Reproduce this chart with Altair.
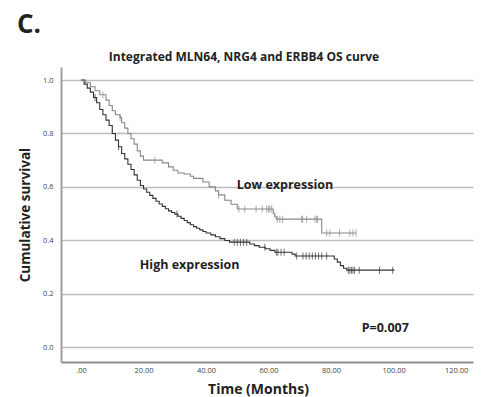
import altair as alt
import pandas as pd
import numpy as np

# ---- data ----
high_t = [0, 1, 2, 3, 4, 5, 6, 7, 8, 9, 10, 11, 12, 13, 14, 15, 16, 17, 18, 19,
          20, 21, 22, 23, 24, 25, 26, 27, 28, 29, 30, 31, 32, 33, 34, 35, 36, 37,
          38, 39, 40, 41.5, 43, 44.5, 46, 47.5, 54, 55.5, 57, 59, 60.5, 62,
          67.5, 68.5, 81, 82, 83, 84, 85]
high_s = [1.0, 0.985, 0.97, 0.955, 0.935, 0.915, 0.89, 0.87, 0.85, 0.83, 0.80,
          0.775, 0.75, 0.725, 0.705, 0.685, 0.665, 0.645, 0.625, 0.605, 0.592,
          0.58, 0.568, 0.557, 0.546, 0.536, 0.527, 0.518, 0.51, 0.504, 0.498,
          0.49, 0.482, 0.474, 0.466, 0.458, 0.451, 0.445, 0.439, 0.433, 0.427,
          0.42, 0.413, 0.406, 0.399, 0.393, 0.386, 0.38, 0.374, 0.368, 0.362,
          0.355, 0.348, 0.341, 0.33, 0.318, 0.305, 0.295, 0.288]
high_end = 100.3
high_cens = [4.5, 12, 30.7, 49, 50, 51, 52, 53, 58.8, 62.5, 63, 64, 65, 69, 71,
             72, 73, 74, 75, 76, 77, 78.6, 85.5, 86, 86.5, 87, 87.5, 89, 95.5, 99.7]

low_t = [0, 1.5, 3, 4.5, 6, 8, 9, 10, 11, 12.5, 13, 14, 15, 16, 17, 18, 19, 20,
         26, 28, 29.5, 31, 33, 35, 36, 39, 41, 43, 44, 46, 48, 50, 61.5, 62,
         62.5, 77]
low_s = [1.0, 0.99, 0.975, 0.96, 0.945, 0.925, 0.905, 0.885, 0.87, 0.86, 0.84,
         0.82, 0.80, 0.78, 0.76, 0.735, 0.715, 0.70, 0.69, 0.675, 0.662, 0.652,
         0.648, 0.64, 0.632, 0.618, 0.60, 0.585, 0.57, 0.55, 0.535, 0.517,
         0.50, 0.488, 0.479, 0.427]
low_end = 88.0
low_cens = [7, 12.5, 23.6, 44, 50.5, 52.4, 56, 58, 59.4, 60, 60.4, 61, 62.8,
            63.6, 64.5, 70.6, 70.9, 72.2, 74.8, 75.4, 75.7, 78.6, 79.6, 82.7,
            86, 87, 88]

labels = ["Low expression", "High expression", "P=0.007"]
label_x = [49.8, 18.8, 89.8]
label_y = [0.607, 0.307, 0.071]

x_ticks = [0, 20, 40, 60, 80, 100, 120]
y_ticks = [0.0, 0.2, 0.4, 0.6, 0.8, 1.0]

# ---- build tables ----
def steps(t, s, end, grp):
    return pd.DataFrame({"t": list(t) + [end], "s": list(s) + [s[-1]], "g": grp})

def cens(t, s, ct, grp):
    idx = np.searchsorted(np.array(t), np.array(ct), side="right") - 1
    return pd.DataFrame({"t": ct, "s": [s[i] for i in idx], "g": grp})

curves = pd.concat([steps(high_t, high_s, high_end, "High"),
                    steps(low_t, low_s, low_end, "Low")])
marks = pd.concat([cens(high_t, high_s, high_cens, "High"),
                   cens(low_t, low_s, low_cens, "Low")])
ann = pd.DataFrame({"t": label_x, "s": label_y, "label": labels})

FONT = "Open Sans"
xs = alt.Scale(domain=[-6.4, 125.4], nice=False, zero=False)
ys = alt.Scale(domain=[-0.056, 1.049], nice=False, zero=False)
col = alt.Scale(domain=["High", "Low"], range=["#333333", "#888888"])

x_enc = alt.X("t:Q", scale=xs, axis=alt.Axis(
    values=x_ticks, title="Time (Months)", grid=False, ticks=False,
    labelExpr="datum.value == 0 ? '.00' : format(datum.value, '.2f')",
    labelFontSize=7.5, labelColor="#444444", labelPadding=4,
    titleFontSize=14, titleFontWeight="bold", titleColor="#222222",
    titlePadding=9, domainColor="#8f8f8f", domainWidth=2, titleX=197))
y_enc = alt.Y("s:Q", scale=ys, axis=alt.Axis(
    values=y_ticks, format=".1f", title="Cumulative survival", grid=True,
    gridColor="#bdbdbd", gridWidth=1.5, ticks=False,
    labelFontSize=7.5, labelColor="#444444", labelPadding=8,
    titleFontSize=13.5, titleFontWeight="bold", titleColor="#222222",
    titlePadding=10, domainColor="#a0a0a0", domainWidth=2))

lines = alt.Chart(curves).mark_line(interpolate="step-after", strokeWidth=1.1).encode(
    x=x_enc, y=y_enc, color=alt.Color("g:N", scale=col, legend=None), detail="g:N")

ticks = alt.Chart(marks).mark_tick(orient="vertical", size=7, thickness=1).encode(
    x="t:Q", y="s:Q", color=alt.Color("g:N", scale=col, legend=None))

texts = alt.Chart(ann).mark_text(align="left", baseline="middle", font=FONT,
                                 fontWeight="bold", fontSize=12.5, color="#222222").encode(
    x="t:Q", y="s:Q", text="label:N")

title = alt.Chart(pd.DataFrame({"k": ["Integrated MLN64, NRG4 and ERBB4 OS curve"]})).mark_text(
    align="center", baseline="middle", font=FONT, fontWeight="bold", fontSize=12,
    color="#222222").encode(x=alt.value(183), y=alt.value(-10), text="k:N")

letter = alt.Chart(pd.DataFrame({"k": ["C."]})).mark_text(
    align="left", baseline="middle", font=FONT, fontWeight="bold", fontSize=26,
    color="#222222").encode(x=alt.value(-44), y=alt.value(-42), text="k:N")

chart = alt.layer(lines, ticks, texts, title, letter).properties(
    width=412, height=295,
    autosize=alt.AutoSizeParams(type="none"),
    padding={"left": 61, "top": 67, "right": 11, "bottom": 35},
).configure_view(stroke=None).configure_axis(labelFont=FONT, titleFont=FONT)

chart.save("out.html", embed_options={"renderer": "svg", "actions": False})
